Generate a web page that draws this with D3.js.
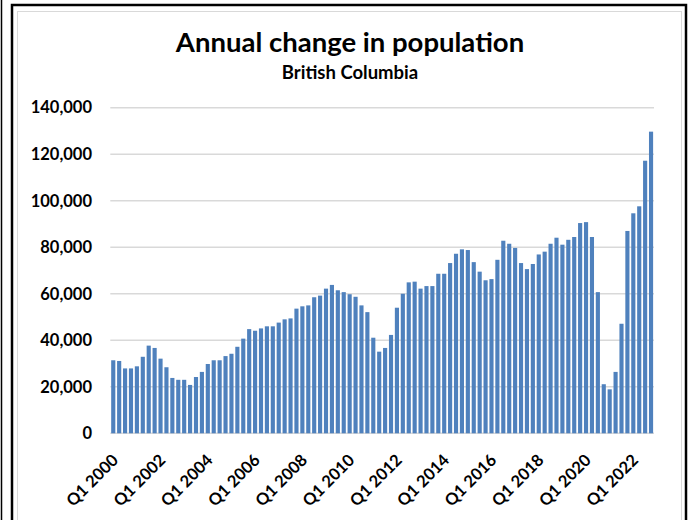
<!DOCTYPE html>
<html>
<head>
<meta charset="utf-8">
<script src="https://cdn.jsdelivr.net/npm/d3@7/dist/d3.min.js"></script>
<style>
  body { margin: 0; background: #fff; }
  svg { display: block; }
</style>
</head>
<body>
<svg id="chart" width="689" height="520"></svg>
<script>
// Annual change in population, British Columbia, quarterly (persons)
const chartTitle = "Annual change in population";
const chartSubtitle = "British Columbia";

const years = d3.range(2000, 2023);
const quarterNames = ["Q1", "Q2", "Q3", "Q4"];
const categories = years.flatMap(y => quarterNames.map(q => `${q} ${y}`));

const popChange = [
  31400, 31100, 27900, 27900, 28800, 32900, 37700, 36700,   // 2000-2001
  32100, 28400, 23800, 23000, 23000, 20800, 24200, 26400,   // 2002-2003
  29800, 31400, 31400, 33200, 34200, 37200, 40700, 44800,   // 2004-2005
  44100, 45100, 46000, 46000, 47600, 49000, 49400, 53600,   // 2006-2007
  54600, 55000, 58500, 59200, 62200, 63800, 61500, 60700,   // 2008-2009
  59800, 58700, 55000, 52100, 41100, 35100, 36700, 42300,   // 2010-2011
  54000, 60000, 64900, 65200, 62200, 63300, 63300, 68600,   // 2012-2013
  68600, 73200, 77200, 79100, 78800, 73600, 69500, 65800,   // 2014-2015
  66300, 74600, 82800, 81500, 79700, 73200, 70600, 72800,   // 2016-2017
  76900, 78100, 81500, 84100, 81100, 83200, 84400, 90400,   // 2018-2019
  90800, 84400, 60700, 21100, 18900, 26400, 47100, 87000,   // 2020-2021
  94600, 97600, 117200, 129700                              // 2022
];

const xTickLabels = ["Q1 2000", "Q1 2002", "Q1 2004", "Q1 2006", "Q1 2008", "Q1 2010",
                     "Q1 2012", "Q1 2014", "Q1 2016", "Q1 2018", "Q1 2020", "Q1 2022"];
const yTickValues = [0, 20000, 40000, 60000, 80000, 100000, 120000, 140000];

const svg = d3.select("#chart");
const FONT = "Lato, 'Liberation Sans', Arial, sans-serif";

// outer frame
svg.append("line").attr("x1", 1.5).attr("x2", 1.5).attr("y1", 0).attr("y2", 520)
  .attr("stroke", "#000").attr("stroke-width", 1.5);
svg.append("rect").attr("x", 12).attr("y", 5).attr("width", 674).attr("height", 530)
  .attr("fill", "#fff").attr("stroke", "#000").attr("stroke-width", 2.5);
svg.append("rect").attr("x", 17.5).attr("y", 11.5).attr("width", 664).attr("height", 520)
  .attr("fill", "none").attr("stroke", "#d9d9d9").attr("stroke-width", 1);

const x = d3.scaleBand()
  .domain(categories)
  .range([110.3, 654])
  .paddingInner(0.3)
  .paddingOuter(0.15);

const y = d3.scaleLinear()
  .domain([0, 140000])
  .range([433.3, 107.7]);

// gridlines
svg.append("g")
  .selectAll("line")
  .data(yTickValues)
  .join("line")
  .attr("x1", 110.3).attr("x2", 654)
  .attr("y1", d => y(d)).attr("y2", d => y(d))
  .attr("stroke", "#d9d9d9").attr("stroke-width", 1.5);

// y-axis labels
const yAxis = d3.axisLeft(y)
  .tickValues(yTickValues)
  .tickSize(0)
  .tickPadding(0)
  .tickFormat(d3.format(","));
svg.append("g")
  .attr("transform", "translate(92,0)")
  .call(yAxis)
  .call(g => g.select(".domain").remove())
  .call(g => g.selectAll("text")
    .attr("font-family", FONT)
    .attr("font-weight", 700)
    .attr("font-size", "16.5px")
    .attr("fill", "#000"));

// bars
svg.append("g")
  .selectAll("rect")
  .data(popChange)
  .join("rect")
  .attr("x", (d, i) => x(categories[i]))
  .attr("width", x.bandwidth())
  .attr("y", d => y(d))
  .attr("height", d => y(0) - y(d))
  .attr("fill", "#4f81bd");

// x-axis labels
const xAxis = d3.axisBottom(x)
  .tickValues(xTickLabels)
  .tickSize(0)
  .tickPadding(0);
svg.append("g")
  .attr("transform", `translate(0,${y(0)})`)
  .call(xAxis)
  .call(g => g.select(".domain").remove())
  .call(g => g.selectAll("text")
    .attr("font-family", FONT)
    .attr("font-weight", 700)
    .attr("font-size", "16.5px")
    .attr("fill", "#000")
    .attr("text-anchor", "end")
    .attr("dy", 0)
    .attr("transform", "translate(6,28) rotate(-45)"));

// titles
svg.append("text")
  .attr("x", 350).attr("y", 52)
  .attr("text-anchor", "middle")
  .attr("font-family", FONT).attr("font-weight", 700).attr("font-size", "27.5px")
  .attr("fill", "#000")
  .text(chartTitle);
svg.append("text")
  .attr("x", 350).attr("y", 79)
  .attr("text-anchor", "middle")
  .attr("font-family", FONT).attr("font-weight", 700).attr("font-size", "18.5px")
  .attr("fill", "#000")
  .text(chartSubtitle);
</script>
</body>
</html>
